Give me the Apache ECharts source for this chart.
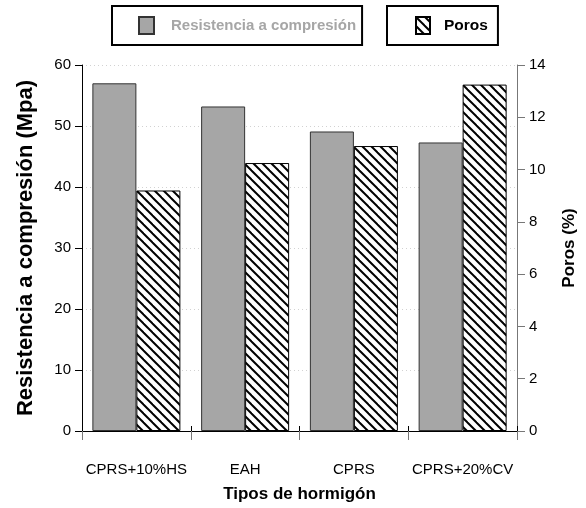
<!DOCTYPE html>
<html><head><meta charset="utf-8">
<script src="https://cdn.jsdelivr.net/npm/echarts@6/dist/echarts.min.js"></script>
<style>html,body{margin:0;padding:0;background:#fff}#c{width:586px;height:508px}</style>
</head><body><div id="c"></div>
<script>
var categories = ['CPRS+10%HS', 'EAH', 'CPRS', 'CPRS+20%CV'];
var resistencia = [57.0, 53.2, 49.1, 47.3];
var poros = [9.2, 10.25, 10.9, 13.25];
var leftTicks = [0, 10, 20, 30, 40, 50, 60];
var rightTicks = [0, 2, 4, 6, 8, 10, 12, 14];

function makeHatch() {
  var s = 9, c = document.createElement('canvas');
  c.width = s; c.height = s;
  var ctx = c.getContext('2d');
  ctx.fillStyle = '#fff'; ctx.fillRect(0, 0, s, s);
  ctx.strokeStyle = '#000'; ctx.lineWidth = 2;
  [-s, 0, s].forEach(function (o) {
    ctx.beginPath(); ctx.moveTo(o - 1, -1); ctx.lineTo(o + s + 1, s + 1); ctx.stroke();
  });
  return c;
}
var hatch = { image: makeHatch(), repeat: 'repeat' };
var FF = "'Liberation Sans', Arial, sans-serif";

var chart = echarts.init(document.getElementById('c'), null, { renderer: 'canvas' });
chart.setOption({
  animation: false,
  textStyle: { fontFamily: FF },
  grid: { left: 82, right: 62, top: 65, bottom: 76 },
  legend: [{
    data: ['Resistencia a compresión'], left: 112, top: 6,
    padding: [10, 6, 10, 26], itemWidth: 15, itemHeight: 17,
    borderColor: '#000', borderWidth: 2, icon: 'rect', selectedMode: false,
    textStyle: { color: '#a6a6a6', fontSize: 15, fontWeight: 'bold', fontFamily: FF, padding: [0, 0, 0, 12] }
  }, {
    data: ['Poros'], left: 387, top: 6,
    padding: [10, 10, 10, 28], itemWidth: 14, itemHeight: 17,
    borderColor: '#000', borderWidth: 2, icon: 'rect', selectedMode: false,
    textStyle: { color: '#000', fontSize: 15.5, fontWeight: 'bold', fontFamily: FF, padding: [0, 0, 0, 9] }
  }],
  xAxis: [{
    type: 'category', data: categories, position: 'bottom',
    axisLine: { lineStyle: { color: '#777', width: 1 } },
    axisTick: { show: true, interval: 0, length: 9, lineStyle: { color: '#777' } },
    axisLabel: { interval: 0, margin: 31, fontSize: 15, color: '#000', fontFamily: FF },
    name: 'Tipos de hormigón', nameLocation: 'middle', nameGap: 55,
    nameTextStyle: { fontSize: 17, fontWeight: 'bold', color: '#000', fontFamily: FF }
  }, {
    type: 'category', data: categories, position: 'top',
    axisLine: { lineStyle: { color: '#000', width: 1 } },
    axisTick: { show: true, interval: 0, length: 5, lineStyle: { color: '#000' } },
    axisLabel: { show: false }
  }],
  yAxis: [{
    type: 'value', min: 0, max: 60, interval: 10, position: 'left',
    axisLine: { show: true, lineStyle: { color: '#000' } },
    axisTick: { show: true, length: 7, lineStyle: { color: '#000' } },
    axisLabel: { margin: 11, fontSize: 15, color: '#000', fontFamily: FF,
      formatter: function (v) { return leftTicks.indexOf(v) >= 0 ? String(v) : ''; } },
    splitLine: { show: true, lineStyle: { color: '#d2d2d2', type: [1, 3], width: 1 } },
    name: 'Resistencia a compresión (Mpa)', nameLocation: 'middle', nameGap: 45,
    nameTextStyle: { fontSize: 22, fontWeight: 'bold', color: '#000', fontFamily: FF }
  }, {
    type: 'value', min: 0, max: 14, interval: 2, position: 'right',
    axisLine: { show: true, lineStyle: { color: '#777' } },
    axisTick: { show: true, length: 8, lineStyle: { color: '#777' } },
    axisLabel: { margin: 12, fontSize: 15, color: '#000', fontFamily: FF,
      formatter: function (v) { return rightTicks.indexOf(v) >= 0 ? String(v) : ''; } },
    splitLine: { show: false },
    name: 'Poros (%)', nameLocation: 'middle', nameGap: 44, nameRotate: 90,
    nameTextStyle: { fontSize: 17, fontWeight: 'bold', color: '#000', fontFamily: FF }
  }],
  series: [{
    name: 'Resistencia a compresión', type: 'bar', xAxisIndex: 0, yAxisIndex: 0,
    data: resistencia, barWidth: 44, barGap: '0%',
    itemStyle: { color: '#a6a6a6', borderColor: '#333', borderWidth: 1 }
  }, {
    name: 'Poros', type: 'bar', xAxisIndex: 0, yAxisIndex: 1,
    data: poros, barWidth: 44, barGap: '0%',
    itemStyle: { color: hatch, borderColor: '#000', borderWidth: 1 }
  }]
});
</script></body></html>
